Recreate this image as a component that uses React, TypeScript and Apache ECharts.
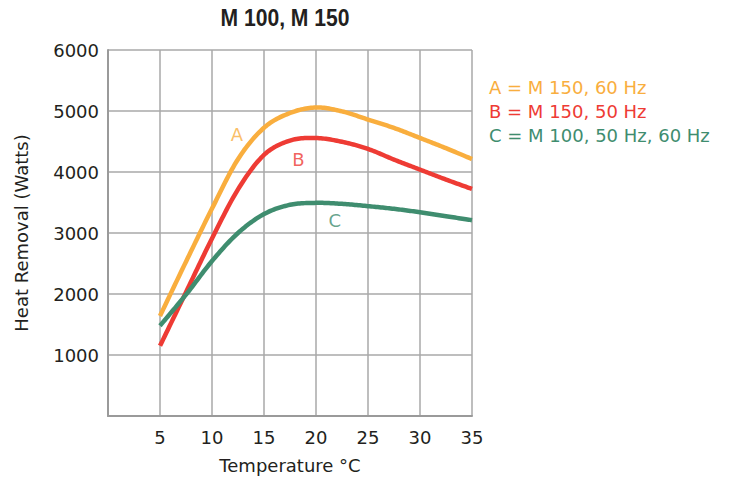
import React, { useEffect, useRef } from "react";
import * as echarts from "echarts";

const temps = [5, 7.5, 10, 12.5, 15, 17.5, 20, 22.5, 25, 27.5, 30, 32.5, 35];
const seriesA = [1640, 2530, 3400, 4210, 4725, 4967, 5058, 4994, 4860, 4722, 4558, 4390, 4212];
const seriesB = [1150, 2030, 2910, 3715, 4280, 4515, 4557, 4495, 4378, 4203, 4039, 3876, 3722];
const seriesC = [1480, 1990, 2540, 3000, 3310, 3462, 3494, 3478, 3440, 3396, 3340, 3275, 3210];

const seriesNames = ["A", "B", "C"];
const legendTexts = ["A = M 150, 60 Hz", "B = M 150, 50 Hz", "C = M 100, 50 Hz, 60 Hz"];
const labelPos: [number, number][] = [
  [12.4, 4612],
  [18.3, 4203],
  [21.8, 3209],
];
const colors = ["#F9AE3E", "#EE3B34", "#3F8D6F"];

const xTicks = [5, 10, 15, 20, 25, 30, 35];
const yTicks = [1000, 2000, 3000, 4000, 5000, 6000];

const FONT = "DejaVu Sans, sans-serif";
const TEXT = "#231f20";

function catmullRom(pts: number[][], steps: number): number[][] {
  const out: number[][] = [];
  const n = pts.length;
  for (let i = 0; i < n - 1; i++) {
    const p0 = pts[Math.max(0, i - 1)];
    const p1 = pts[i];
    const p2 = pts[i + 1];
    const p3 = pts[Math.min(n - 1, i + 2)];
    for (let s = 0; s < steps; s++) {
      const t = s / steps;
      const t2 = t * t;
      const t3 = t2 * t;
      const f = (a: number, b: number, c: number, d: number) =>
        0.5 * (2 * b + (-a + c) * t + (2 * a - 5 * b + 4 * c - d) * t2 + (-a + 3 * b - 3 * c + d) * t3);
      out.push([f(p0[0], p1[0], p2[0], p3[0]), f(p0[1], p1[1], p2[1], p3[1])]);
    }
  }
  out.push(pts[n - 1]);
  return out;
}

export default function App() {
  const ref = useRef<HTMLDivElement>(null);
  useEffect(() => {
    if (!ref.current) return;
    const chart = echarts.init(ref.current, undefined, { renderer: "svg" });
    const all = [seriesA, seriesB, seriesC];
    const lines = all.map((vals, i) => ({
      type: "custom",
      name: seriesNames[i],
      data: temps.map((t, j) => [t, vals[j]]),
      encode: { x: 0, y: 1 },
      renderItem: (params: any, api: any) => {
        if (params.dataIndex !== 0) return null;
        const pts = temps.map((t, j) => api.coord([t, vals[j]]));
        return {
          type: "polyline",
          shape: { points: catmullRom(pts, 16) },
          style: { stroke: colors[i], lineWidth: 4.5, fill: "none", lineJoin: "round", lineCap: "butt" },
        };
      },
      z: 3,
    }));
    const labels = labelPos.map((p, i) => ({
      type: "scatter",
      data: [p],
      symbolSize: 0,
      label: {
        show: true,
        position: "inside",
        formatter: seriesNames[i],
        color: colors[i],
        fontSize: 18,
        fontFamily: FONT,
      },
      z: 4,
    }));
    chart.setOption({
      animation: false,
      grid: { left: 108, top: 50, right: 259, bottom: 63, containLabel: false },
      xAxis: {
        type: "value",
        min: 0,
        max: 35,
        interval: 5,
        name: "Temperature °C",
        nameLocation: "middle",
        nameGap: 40,
        nameTextStyle: { fontSize: 18, color: TEXT, fontFamily: FONT },
        axisLine: { show: true, lineStyle: { color: "#9a9a9a", width: 2 } },
        axisTick: { show: false },
        axisLabel: {
          fontSize: 18,
          color: TEXT,
          fontFamily: FONT,
          margin: 12,
          formatter: (v: number) => (xTicks.includes(v) ? String(v) : ""),
        },
        splitLine: { show: true, lineStyle: { color: "#a8a8a8", width: 1.5 } },
      },
      yAxis: {
        type: "value",
        min: 0,
        max: 6000,
        interval: 1000,
        name: "Heat Removal (Watts)",
        nameLocation: "middle",
        nameGap: 78,
        nameTextStyle: { fontSize: 18, color: TEXT, fontFamily: FONT },
        axisLine: { show: true, lineStyle: { color: "#9a9a9a", width: 2 } },
        axisTick: { show: false },
        axisLabel: {
          fontSize: 18,
          color: TEXT,
          fontFamily: FONT,
          margin: 9,
          formatter: (v: number) => (yTicks.includes(v) ? String(v) : ""),
        },
        splitLine: { show: true, lineStyle: { color: "#a8a8a8", width: 1.5 } },
      },
      graphic: [
        {
          type: "text",
          x: 285,
          y: 18,
          scaleX: 0.88,
          style: {
            text: "M 100, M 150",
            fill: TEXT,
            font: "bold 24px 'Liberation Sans', Arial, sans-serif",
            textAlign: "center",
            textVerticalAlign: "middle",
          },
        },
        ...legendTexts.map((t, i) => ({
          type: "text",
          x: 489,
          y: 87 + i * 24,
          style: {
            text: t,
            fill: colors[i],
            font: `18px ${FONT}`,
            textAlign: "left",
            textVerticalAlign: "middle",
          },
        })),
      ],
      series: [...lines, ...labels],
    });
    return () => chart.dispose();
  }, []);
  return (
    <div
      ref={ref}
      style={{ position: "fixed", left: 0, top: 0, width: 731, height: 479, background: "#fff" }}
    />
  );
}
